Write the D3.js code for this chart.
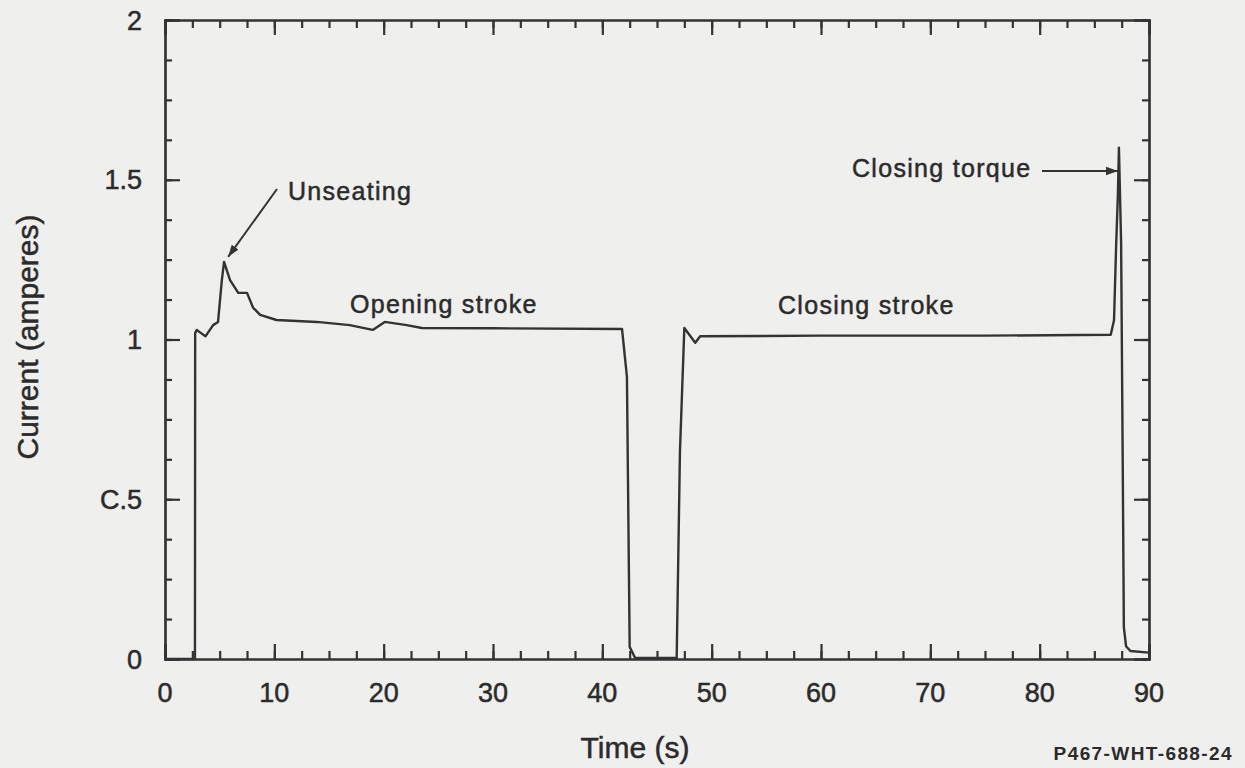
<!DOCTYPE html>
<html lang="en">
<head>
    <meta charset="UTF-8">
    <title>Valve motor current trace</title>
    <script src="https://d3js.org/d3.v7.min.js"></script>
    <style>
        body, html {
            margin: 0;
            background-color: #efefed;
        }
        svg {
            display: block;
            font-family: "Liberation Sans", Arial, Helvetica, sans-serif;
        }
        /* scanned print looks a bit heavier than plain Arial */
        text {
            fill: #2b2b2b;
            stroke: #2b2b2b;
            stroke-width: 0.5px;
        }
    </style>
</head>
<body>
    <div id="chart"></div>

    <script>
        // Motor current trace (time in s, current in A)
        const times = [0, 2.74, 2.76, 2.9, 3.3, 3.7, 4.4, 4.85, 5.2, 5.4, 5.95, 6.7, 7.5, 8.05, 8.7,
            10.2, 13.9, 16.9, 19.0, 20.1, 22.1, 23.5, 30, 41.8, 42.25, 42.5, 43.0, 46.8,
            47.1, 47.5, 48.5, 48.95, 60, 75, 86.5, 86.8, 87.0, 87.15, 87.25, 87.45, 87.6,
            87.7, 87.9, 88.3, 90];
        const current = [0, 0, 1.02, 1.03, 1.02, 1.01, 1.045, 1.055, 1.186, 1.243, 1.186, 1.146,
            1.146, 1.10, 1.077, 1.061, 1.055, 1.045, 1.03, 1.055, 1.045, 1.036, 1.035, 1.033,
            0.883, 0.038, 0.003, 0.003, 0.65, 1.036, 0.99, 1.01, 1.012, 1.012, 1.015, 1.06,
            1.3, 1.45, 1.6, 1.3, 0.6, 0.1, 0.04, 0.025, 0.02];

        const xTicks = [0, 10, 20, 30, 40, 50, 60, 70, 80, 90];
        const yTicks = [0, 0.5, 1, 1.5, 2];
        const yTickLabels = ["0", "C.5", "1", "1.5", "2"];

        // Annotations
        const notes = [
            { text: "Unseating", x: 288, y: 200 },
            { text: "Opening stroke", x: 350, y: 313 },
            { text: "Closing stroke", x: 778, y: 314 },
            { text: "Closing torque", x: 852, y: 177 }
        ];

        const width = 1245;
        const height = 768;
        const margin = { top: 20, right: 96, bottom: 109, left: 165 };
        const ink = "#333";

        const svg = d3.select("#chart")
            .append("svg")
            .attr("width", width)
            .attr("height", height);

        const x = d3.scaleLinear().domain([0, 90]).range([margin.left, width - margin.right]);
        const y = d3.scaleLinear().domain([0, 2]).range([height - margin.bottom, margin.top]);

        const minorX = d3.range(0, 90.01, 2.5);
        const minorY = d3.range(0, 2.001, 0.125);

        // Axes on all four sides, ticks pointing inward
        svg.append("g")
            .attr("transform", `translate(0,${y(0)})`)
            .call(d3.axisBottom(x).tickValues(minorX).tickSize(-8).tickFormat(""));
        svg.append("g")
            .attr("transform", `translate(0,${y(0)})`)
            .call(d3.axisBottom(x).tickValues(xTicks).tickSize(-15).tickFormat(""));
        svg.append("g")
            .attr("transform", `translate(0,${y(2)})`)
            .call(d3.axisTop(x).tickValues(minorX).tickSize(-8).tickFormat(""));
        svg.append("g")
            .attr("transform", `translate(0,${y(2)})`)
            .call(d3.axisTop(x).tickValues(xTicks).tickSize(-15).tickFormat(""));
        svg.append("g")
            .attr("transform", `translate(${x(0)},0)`)
            .call(d3.axisLeft(y).tickValues(minorY).tickSize(-7).tickFormat(""));
        svg.append("g")
            .attr("transform", `translate(${x(0)},0)`)
            .call(d3.axisLeft(y).tickValues(yTicks).tickSize(-15).tickFormat(""));
        svg.append("g")
            .attr("transform", `translate(${x(90)},0)`)
            .call(d3.axisRight(y).tickValues(minorY).tickSize(-7).tickFormat(""));
        svg.append("g")
            .attr("transform", `translate(${x(90)},0)`)
            .call(d3.axisRight(y).tickValues(yTicks).tickSize(-15).tickFormat(""));

        svg.selectAll(".domain, .tick line")
            .attr("stroke", ink)
            .attr("stroke-width", 2.2);

        // Tick labels
        svg.append("g")
            .selectAll("text")
            .data(xTicks)
            .join("text")
            .attr("x", d => x(d))
            .attr("y", 702)
            .attr("text-anchor", "middle")
            .attr("font-size", 27)
            .text(d => d);

        svg.append("g")
            .selectAll("text")
            .data(yTicks)
            .join("text")
            .attr("x", 142)
            .attr("y", d => y(d))
            .attr("dy", "0.36em")
            .attr("text-anchor", "end")
            .attr("font-size", 27)
            .text((d, i) => yTickLabels[i]);

        // Axis titles
        svg.append("text")
            .attr("x", 635)
            .attr("y", 758)
            .attr("text-anchor", "middle")
            .attr("font-size", 30)
            .text("Time (s)");

        svg.append("text")
            .attr("transform", "translate(27,337) rotate(-90)")
            .attr("dy", "0.36em")
            .attr("text-anchor", "middle")
            .attr("font-size", 30)
            .text("Current (amperes)");

        svg.append("text")
            .attr("x", 1233)
            .attr("y", 760)
            .attr("text-anchor", "end")
            .attr("font-size", 19)
            .attr("font-weight", "bold")
            .attr("letter-spacing", 1.4)
            .style("stroke-width", 0)
            .text("P467-WHT-688-24");

        // Current trace
        const line = d3.line()
            .x(d => x(d[0]))
            .y(d => y(d[1]));

        svg.append("path")
            .datum(times.map((t, i) => [t, current[i]]))
            .attr("fill", "none")
            .attr("stroke", ink)
            .attr("stroke-width", 2.4)
            .attr("stroke-linejoin", "round")
            .attr("d", line);

        // Annotation labels and arrows
        svg.append("g")
            .selectAll("text")
            .data(notes)
            .join("text")
            .attr("x", d => d.x)
            .attr("y", d => d.y)
            .attr("font-size", 25)
            .attr("letter-spacing", 1.3)
            .text(d => d.text);

        svg.append("defs").append("marker")
            .attr("id", "arrow")
            .attr("viewBox", "0 0 10 10")
            .attr("refX", 10)
            .attr("refY", 5)
            .attr("markerWidth", 6)
            .attr("markerHeight", 6)
            .attr("orient", "auto")
            .append("path")
            .attr("d", "M0,1.5L10,5L0,8.5Z")
            .attr("fill", ink);

        svg.append("line")
            .attr("x1", 277).attr("y1", 189)
            .attr("x2", x(5.5) + 3).attr("y2", y(1.243) - 5)
            .attr("stroke", ink)
            .attr("stroke-width", 2)
            .attr("marker-end", "url(#arrow)");

        svg.append("line")
            .attr("x1", 1042).attr("y1", 171)
            .attr("x2", x(87.25) - 1).attr("y2", 171)
            .attr("stroke", ink)
            .attr("stroke-width", 2)
            .attr("marker-end", "url(#arrow)");
    </script>
</body>
</html>
